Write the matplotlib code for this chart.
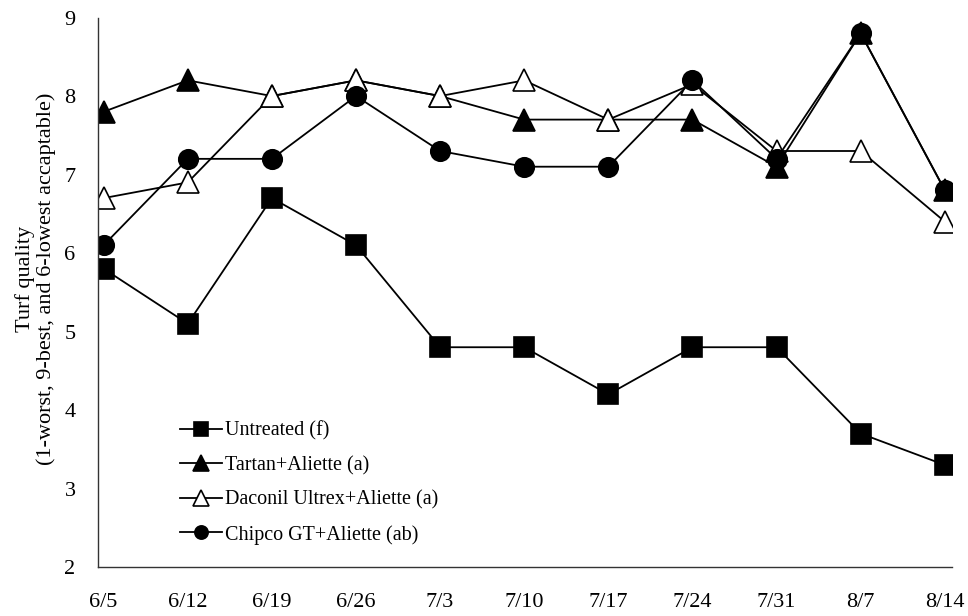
import matplotlib
matplotlib.use("Agg")
import matplotlib.pyplot as plt

dates = ["6/5", "6/12", "6/19", "6/26", "7/3", "7/10", "7/17", "7/24", "7/31", "8/7", "8/14"]
untreated = [5.8, 5.1, 6.7, 6.1, 4.8, 4.8, 4.2, 4.8, 4.8, 3.7, 3.3]
tartan = [7.8, 8.2, 8.0, 8.2, 8.0, 7.7, 7.7, 7.7, 7.1, 8.8, 6.8]
daconil = [6.7, 6.9, 8.0, 8.2, 8.0, 8.2, 7.7, 8.15, 7.3, 7.3, 6.4]
chipco = [6.1, 7.2, 7.2, 8.0, 7.3, 7.1, 7.1, 8.2, 7.2, 8.8, 6.8]
labels = ["Untreated (f)", "Tartan+Aliette (a)", "Daconil Ultrex+Aliette (a)", "Chipco GT+Aliette (ab)"]
yticks = [2, 3, 4, 5, 6, 7, 8, 9]

plt.rcParams['font.family'] = ['Liberation Serif', 'DejaVu Serif']

fig = plt.figure(figsize=(9.68, 6.16), dpi=100)
ax = fig.add_axes([0.101, 0.0795, 0.882, 0.892])

x = list(range(len(dates)))
styles = [
    dict(marker='s', mfc='black', ms=14),
    dict(marker='^', mfc='black', ms=16),
    dict(marker='^', mfc='white', ms=16),
    dict(marker='o', mfc='black', ms=14),
]
for series, lab, st in zip([untreated, tartan, daconil, chipco], labels, styles):
    ax.plot(x, series, color='black', lw=1.3, mec='black', mew=1.2, label=lab, **st)

ax.set_xlim(-0.07, 10.08)
ax.set_ylim(2, 9)
ax.set_xticks(x)
ax.set_xticklabels(dates, fontsize=16)
ax.set_yticks(yticks)
ax.set_yticklabels([str(v) for v in yticks], fontsize=16)
ax.tick_params(axis='x', length=0, pad=19)
ax.tick_params(axis='y', length=0, pad=16)
for s in ['top', 'right']:
    ax.spines[s].set_visible(False)
for s in ['left', 'bottom']:
    ax.spines[s].set_linewidth(1.0)
    ax.spines[s].set_color('#333333')

ax.set_ylabel("Turf quality\n(1-worst, 9-best, and 6-lowest accaptable)", fontsize=16,
              linespacing=1.1)
ax.yaxis.set_label_coords(-0.049, 0.525)

leg = ax.legend(loc='lower left', bbox_to_anchor=(0.075, 0.008), frameon=False,
                fontsize=14.5, markerscale=0.68, handlelength=2.1, handletextpad=0.15,
                labelspacing=0.75)

fig.savefig("out.png", dpi=100)
